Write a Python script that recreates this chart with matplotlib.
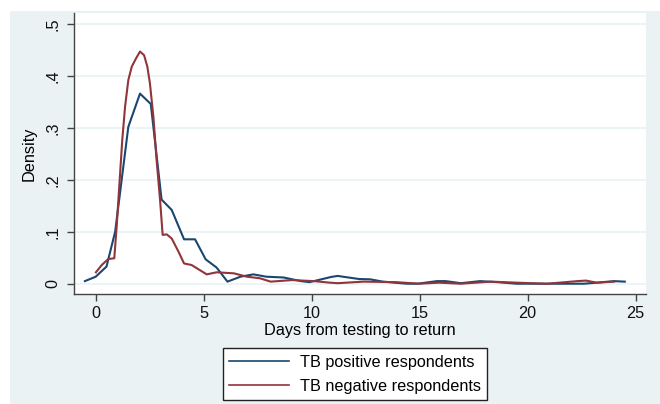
import matplotlib

matplotlib.use("Agg")

import matplotlib.pyplot as plt
from matplotlib.patches import Rectangle

plt.rcParams["font.family"] = ["Liberation Sans", "DejaVu Sans"]

# density estimates
pos_days = [-0.5, 0.0, 0.5, 0.9, 1.51, 2.05, 2.55, 3.05, 3.52, 4.09, 4.6, 5.09,
            5.6, 6.1, 6.7, 7.3, 7.9, 8.7, 9.5, 9.9, 10.9, 11.2, 12.2, 12.7, 13.3,
            14.4, 14.9, 15.8, 16.2, 16.9, 17.8, 18.6, 19.5, 20.9, 22.6, 23.2, 24.0, 24.5]
pos_density = [0.005, 0.0135, 0.033, 0.10, 0.302, 0.366, 0.346, 0.162, 0.142, 0.0855,
               0.0855, 0.047, 0.031, 0.004, 0.0135, 0.018, 0.0135, 0.012, 0.005, 0.003,
               0.013, 0.015, 0.009, 0.0085, 0.004, 0.0, 0.0, 0.005, 0.005, 0.001,
               0.005, 0.003, 0.0, 0.0, 0.0, 0.002, 0.005, 0.004]

neg_days = [0.01, 0.28, 0.58, 0.86, 0.97, 1.09, 1.23, 1.36, 1.51, 1.67, 1.87, 2.05,
            2.24, 2.39, 2.51, 2.67, 2.82, 2.98, 3.1, 3.29, 3.52, 3.83, 4.09, 4.44,
            5.14, 5.6, 6.4, 7.0, 7.6, 8.1, 9.1, 10.1, 10.85, 11.2, 12.4, 13.9, 15.0,
            15.9, 16.9, 18.3, 19.5, 20.9, 22.3, 22.7, 23.2, 24.0]
neg_density = [0.022, 0.036, 0.0475, 0.049, 0.11, 0.187, 0.277, 0.341, 0.392, 0.418,
               0.434, 0.447, 0.44, 0.418, 0.386, 0.322, 0.238, 0.161, 0.094, 0.095,
               0.087, 0.062, 0.039, 0.036, 0.018, 0.022, 0.02, 0.0135, 0.0105, 0.004,
               0.007, 0.005, 0.002, 0.001, 0.004, 0.003, 0.0, 0.002, 0.0, 0.004,
               0.002, 0.0, 0.005, 0.006, 0.002, 0.004]

x_ticks = [0, 5, 10, 15, 20, 25]
y_ticks = [0, 0.1, 0.2, 0.3, 0.4, 0.5]
y_tick_labels = ["0", ".1", ".2", ".3", ".4", ".5"]

BG = "#eaf2f3"
W, H = 660, 404
FS = 11.7

fig = plt.figure(figsize=(6.6, 4.04), dpi=100, facecolor="white")
fig.patches.append(Rectangle((10 / W, 0), 1 - 10 / W, (H - 11) / H,
                             transform=fig.transFigure, facecolor=BG,
                             edgecolor="none", zorder=-10))

ax = fig.add_axes([74 / W, (H - 294) / H, (646 - 74) / W, (294 - 13) / H])
ax.set_facecolor("white")

ax.plot(pos_days, pos_density, color="#1a476f", linewidth=1.5,
        label="TB positive respondents", zorder=3)
ax.plot(neg_days, neg_density, color="#90353b", linewidth=1.5,
        label="TB negative respondents", zorder=3)

ax.set_xlim(-1.005, 25.48)
ax.set_ylim(-0.0198, 0.5212)
ax.set_xticks(x_ticks)
ax.set_yticks(y_ticks)
ax.set_yticklabels(y_tick_labels)
for lab in ax.get_yticklabels():
    lab.set_rotation(90)
    lab.set_va("center")

ax.grid(axis="y", color=BG, linewidth=1.2, zorder=1)
ax.grid(axis="x", visible=False)
for side in ("top", "right"):
    ax.spines[side].set_visible(False)
for side in ("left", "bottom"):
    ax.spines[side].set_color("#444444")
    ax.spines[side].set_linewidth(1.0)

ax.tick_params(axis="both", length=5, width=1, color="#444444",
               labelsize=FS, labelcolor="#111111")
ax.tick_params(axis="x", pad=4)
ax.tick_params(axis="y", pad=5)

ax.set_xlabel("Days from testing to return", fontsize=FS, labelpad=1)
ax.set_ylabel("Density", fontsize=FS, labelpad=6)

leg = fig.legend(loc="upper left", bbox_to_anchor=(222.7 / W, (H - 348.3) / H),
                 bbox_transform=fig.transFigure, borderaxespad=0,
                 fontsize=FS, frameon=True, fancybox=False, handlelength=3.7,
                 handletextpad=0.65, borderpad=0.4, labelspacing=0.55)
frame = leg.get_frame()
frame.set_edgecolor("#222222")
frame.set_linewidth(1.0)
frame.set_facecolor("white")
frame.set_alpha(1)
for line in leg.get_lines():
    line.set_linewidth(1.2)

fig.savefig("out.png", dpi=100, facecolor="white")
